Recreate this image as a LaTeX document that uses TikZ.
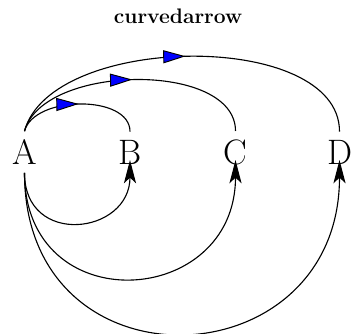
\documentclass[tikz,border=0pt]{standalone}
\usetikzlibrary{arrows.meta,decorations.markings,calc}
\begin{document}
\begin{tikzpicture}[x=0.5376pt,y=0.5376pt,
  lbl/.style={font=\fontsize{19}{23}\selectfont, inner sep=4.3pt},
  conn/.style={line width=0.6pt},
  midarrow/.style={conn, postaction={decorate}, decoration={markings,
    mark=at position 0.5 with {\arrow{Triangle[length=12pt,width=7pt,fill=blue,line width=0.5pt]}}}},
  botarrow/.style={conn, -{Stealth[length=12.5pt,width=6.5pt,inset=3pt]}}]
\useasboundingbox (0,0) rectangle (351,333);
\node[font=\bfseries\fontsize{11.3}{13}\selectfont] (title) at (178,316.5) {curvedarrow};
\node[lbl] (A) at (24.5,181) {A};
\node[lbl] (B) at (130,181) {B};
\node[lbl] (C) at (235.5,181) {C};
\node[lbl] (D) at (339.5,181) {D};
\coordinate (Bt) at ($(B.center)+(0,-8)$);
\coordinate (Ct) at ($(C.center)+(0,-8)$);
\coordinate (Dt) at ($(D.center)+(0,-8)$);
\draw[midarrow] (A.north) to[out=75,in=90,looseness=0.9] (B.north);
\draw[midarrow] (A.north) to[out=75,in=90,looseness=0.85] (C.north);
\draw[midarrow] (A.north) to[out=75,in=90,looseness=0.83] (D.north);
\draw[botarrow] (A.south) to[out=-90,in=-90,looseness=1.8] (Bt);
\draw[botarrow] (A.south) to[out=-90,in=-90,looseness=1.8] (Ct);
\draw[botarrow] (A.south) to[out=-90,in=-90,looseness=1.8] (Dt);
\end{tikzpicture}
\end{document}
